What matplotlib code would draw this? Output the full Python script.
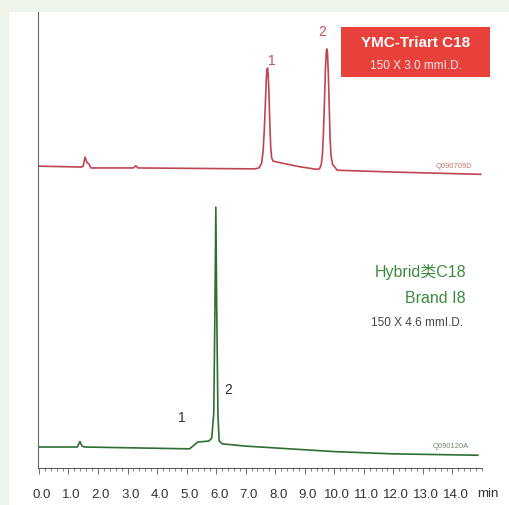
import matplotlib.pyplot as plt
import matplotlib.transforms as mtransforms
from matplotlib.patches import Rectangle
from matplotlib.ticker import MultipleLocator

# YMC-Triart C18 trace (time in min, signal)
red_t = [-0.03, 1.45, 1.50, 1.56, 1.63, 1.70, 1.76, 3.20, 3.28, 3.35, 7.30,
         7.45, 7.54, 7.59, 7.63, 7.67, 7.70, 7.72, 7.74, 7.76, 7.79, 7.82,
         7.85, 7.88, 7.93, 8.20, 8.80, 9.40, 9.50, 9.56, 9.60, 9.63, 9.67,
         9.70, 9.73, 9.75, 9.77, 9.80, 9.83, 9.86, 9.89, 9.94, 10.10, 12.00,
         14.96]
red_y = [66.2, 66.0, 66.2, 68.2, 67.0, 66.6, 65.8, 65.8, 66.3, 65.8, 65.6,
         65.8, 66.8, 69.5, 74.0, 80.5, 85.5, 87.3, 87.7, 86.5, 82.0, 75.0,
         70.0, 68.0, 67.3, 66.9, 66.1, 65.5, 65.6, 66.6, 69.0, 73.0, 81.0,
         87.5, 91.3, 91.9, 91.0, 86.0, 79.0, 72.0, 68.5, 66.6, 65.3, 64.9,
         64.4]

# Hybrid C18 (Brand I8) trace
grn_t = [-0.03, 1.30, 1.39, 1.46, 1.55, 5.10, 5.25, 5.38, 5.75, 5.85, 5.92,
         5.96, 5.99, 6.02, 6.06, 6.10, 6.20, 7.00, 10.00, 12.00, 14.86]
grn_y = [4.6, 4.6, 5.8, 4.8, 4.6, 4.2, 5.0, 5.7, 5.9, 6.5, 12.0,
         35.0, 57.2, 35.0, 12.0, 6.0, 5.3, 4.8, 3.6, 3.1, 2.8]

red_labels = [("1", 7.88, 89.5), ("2", 9.58, 95.8)]
grn_labels = [("1", 4.84, 11.2), ("2", 6.40, 17.3)]
xticks = [0, 1, 2, 3, 4, 5, 6, 7, 8, 9, 10, 11, 12, 13, 14]

W, H = 509, 506
sans = ["Liberation Sans", "DejaVu Sans"]
sans_cjk = ["Liberation Sans", "Noto Sans CJK SC", "DejaVu Sans"]

fig = plt.figure(figsize=(W / 100, H / 100), dpi=100, facecolor="#eef4ea")
fig.patches.append(Rectangle((9 / W, 0), 500 / W, 493 / H, transform=fig.transFigure,
                             facecolor="white", edgecolor="none", zorder=-5))

ax = fig.add_axes([38 / W, (H - 469) / H, (482 - 38) / W, (469 - 13) / H])
ax.set_facecolor("none")
ax.set_xlim(-0.03, 15.0)
ax.set_ylim(0, 100)

ax.plot(red_t, red_y, color="#bf4553", lw=1.2)
ax.plot(grn_t, grn_y, color="#2f6e33", lw=1.2)

for s, x, y in red_labels:
    ax.text(x, y, s, color="#c4505a", fontsize=10, ha="center", va="center", family=sans)
for s, x, y in grn_labels:
    ax.text(x, y, s, color="#333333", fontsize=10, ha="center", va="center", family=sans)

for s in ["top", "right"]:
    ax.spines[s].set_visible(False)
ax.spines["left"].set_color("#666666")
ax.spines["left"].set_linewidth(0.8)
ax.spines["bottom"].set_color("#555555")
ax.spines["bottom"].set_linewidth(0.7)
ax.set_yticks([])
ax.set_xticks(xticks)
ax.set_xticklabels(["%.1f" % v for v in xticks], family=sans, fontsize=9.5, color="#333333")
ax.xaxis.set_minor_locator(MultipleLocator(0.2))
ax.tick_params(axis="x", which="major", direction="out", length=4.5, width=0.6,
               color="#555555", pad=10)
ax.tick_params(axis="x", which="minor", direction="out", length=2.5, width=0.5,
               color="#555555")
shift = mtransforms.ScaledTranslation(3 / 100, 0, fig.dpi_scale_trans)
for lab in ax.get_xticklabels():
    lab.set_transform(lab.get_transform() + shift)

fig.text(488 / W, (H - 494) / H, "min", family=sans, fontsize=9.5, color="#333333",
         ha="center", va="center")

# red column box
fig.patches.append(Rectangle((341 / W, (H - 78) / H), 149 / W, 50 / H,
                             transform=fig.transFigure, facecolor="#e8413b",
                             edgecolor="none", zorder=1))
fig.text(416 / W, (H - 43) / H, "YMC-Triart C18", family=sans, fontsize=11,
         fontweight="bold", color="white", ha="center", va="center")
fig.text(416 / W, (H - 66) / H, "150 X 3.0 mmI.D.", family=sans, fontsize=8.5,
         color="#ffe6e6", ha="center", va="center")

fig.text(466 / W, (H - 272) / H, "Hybrid类C18", family=sans_cjk, fontsize=11.5,
         color="#3c8a3f", ha="right", va="center")
fig.text(466 / W, (H - 299) / H, "Brand I8", family=sans, fontsize=11.5,
         color="#3c8a3f", ha="right", va="center")
fig.text(463 / W, (H - 323) / H, "150 X 4.6 mmI.D.", family=sans, fontsize=8.5,
         color="#444444", ha="right", va="center")

fig.text(454 / W, (H - 166) / H, "Q090709D", family=sans, fontsize=5.5,
         color="#c27a72", ha="center", va="center")
fig.text(451 / W, (H - 447) / H, "Q090120A", family=sans, fontsize=5.5,
         color="#6e8a6e", ha="center", va="center")

fig.savefig("out.png", dpi=100, facecolor=fig.get_facecolor())
